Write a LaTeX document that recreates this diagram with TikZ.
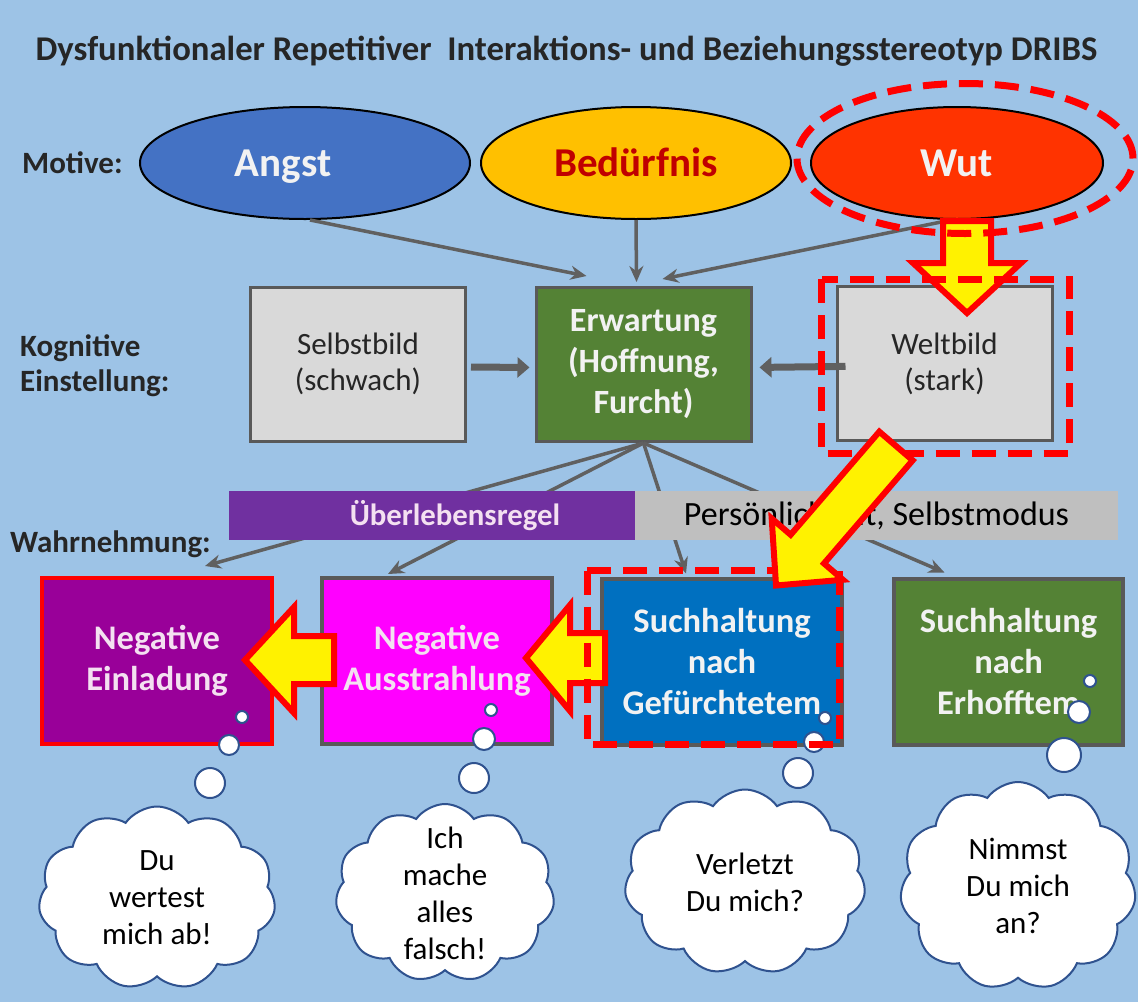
\documentclass[tikz,border=0pt]{standalone}
\usepackage{fontspec}
\setmainfont{Carlito}
\usetikzlibrary{arrows.meta,shapes.geometric,shapes.symbols}

\definecolor{hgblau}{HTML}{9DC3E6}
\definecolor{dunkel}{HTML}{262626}
\definecolor{angstblau}{HTML}{4472C4}
\definecolor{gold}{HTML}{FFC000}
\definecolor{dunkelrot}{HTML}{C00000}
\definecolor{wutrot}{HTML}{FF3300}
\definecolor{hellgrau}{HTML}{D9D9D9}
\definecolor{grasgruen}{HTML}{548235}
\definecolor{rahmen}{HTML}{595959}
\definecolor{linie}{HTML}{606060}
\definecolor{lila}{HTML}{7030A0}
\definecolor{balkengrau}{HTML}{BFBFBF}
\definecolor{violett}{HTML}{990099}
\definecolor{pink}{HTML}{FF00FF}
\definecolor{blau}{HTML}{0070C0}
\definecolor{wolkrand}{HTML}{2F528F}
\definecolor{hell}{HTML}{F2F2F2}
\definecolor{rosa}{HTML}{F4E0F1}

\newcommand{\gelbpfeil}[6]{%
  \begin{scope}[shift={#1},rotate=#2]
    \draw[gelb] (0,#5) -- ({#3-#4},#5) -- ({#3-#4},#6) -- (#3,0) -- ({#3-#4},-#6) -- ({#3-#4},-#5) -- (0,-#5) -- cycle;
  \end{scope}}

\begin{document}
\begin{tikzpicture}[x=1pt,y=-1pt,
  titel/.style={font=\fontsize{34.7}{40}\selectfont\bfseries, text=dunkel, inner sep=0},
  ebene/.style={font=\fontsize{31}{35}\selectfont\bfseries, text=dunkel, inner sep=0, align=left},
  motiv/.style={ellipse, draw=black, line width=2pt, inner sep=0, minimum height=112pt, text height=26.4pt, text depth=0pt, font=\fontsize{41}{45}\selectfont\bfseries},
  kasten/.style={rectangle, draw=rahmen, line width=3pt, inner sep=0, align=center, minimum width=215pt, minimum height=154pt, font=\fontsize{31}{36}\selectfont},
  feld/.style={rectangle, draw=rahmen, line width=4pt, inner sep=0, align=center, minimum height=166pt, font=\fontsize{34.5}{41}\selectfont\bfseries},
  balken/.style={rectangle, inner sep=0, minimum height=49pt, font=\fontsize{34}{38}\selectfont},
  verb/.style={draw=linie, line width=3.5pt, -{Stealth[length=16pt,width=14pt]}},
  dickpfeil/.style={draw=linie, line width=7pt, -{Triangle[length=12pt,width=20pt]}},
  rotstrich/.style={draw=red, line width=7pt, dash pattern=on 24pt off 12pt},
  wolke/.style={cloud, cloud puffs=11, cloud puff arc=110, draw=wolkrand, line width=2pt, fill=white, align=center, inner sep=0, font=\fontsize{31}{37}\selectfont},
  blase/.style={circle, draw=wolkrand, line width=2pt, fill=white, inner sep=0},
  gelb/.style={draw=red, fill=yellow, line width=6pt, line join=miter}]

\useasboundingbox (0,0) rectangle (1138,1002);
\fill[hgblau] (0,0) rectangle (1138,1002);

\node[titel, anchor=base] (titel) at (566.5,60) {Dysfunktionaler Repetitiver\ \ Interaktions- und Beziehungsstereotyp DRIBS};
\node[ebene, anchor=base west] (motive) at (22,173) {Motive:};
\node[ebene, anchor=west] (kogn) at (20,366) {Kognitive\\Einstellung:};
\node[ebene, anchor=base west] (wahrn) at (10,552) {Wahrnehmung:};

\node[motiv, fill=angstblau, text=hell, minimum width=330pt] (angst) at (305,163) {\hspace*{-44pt}Angst};
\node[motiv, fill=gold, text=dunkelrot, minimum width=310pt] (bed) at (636,163) {Bedürfnis};
\node[motiv, fill=wutrot, text=hell, minimum width=292pt] (wut) at (957,163) {Wut};

\node[kasten, fill=hellgrau, text=dunkel] (selbst) at (358,364) {Selbstbild\\(schwach)};
\node[kasten, fill=grasgruen, text=hell, font=\fontsize{34}{41}\selectfont\bfseries] (erw) at (643.5,364.5) {Erwartung\\(Hoffnung,\\Furcht)};
\node[kasten, fill=hellgrau, text=dunkel] (welt) at (944.5,363.5) {Weltbild\\(stark)};

\draw[verb] (angst.275) -- ([shift={(52,-10)}]erw.north west);
\draw[verb] (bed.south) -- ([shift={(-7,-4)}]erw.north);
\draw[verb] (wut.264) -- ([shift={(128,-7)}]erw.north west);
\draw[dickpfeil, shorten <=4pt, shorten >=5pt] ([yshift=-3pt]selbst.east) -- ([yshift=-3pt]erw.west);
\draw[dickpfeil, shorten <=-10pt, shorten >=7pt] ([yshift=-3pt]welt.west) -- ([yshift=-3pt]erw.east);

\node[feld, fill=violett, draw=red, text=rosa, minimum width=230pt] (nein) at (157,661) {Negative\\Einladung};
\node[feld, fill=pink, text=rosa, minimum width=230pt] (naus) at (437,661) {Negative\\Ausstrahlung};
\node[feld, fill=blau, text=hell, minimum width=240pt] (gef) at (722,661.5) {Suchhaltung\\nach\\Gefürchtetem};
\node[feld, fill=grasgruen, text=hell, minimum width=229pt] (erh) at (1008.5,661.5) {Suchhaltung\\nach\\Erhofftem};

\draw[verb] (erw.south) -- ([shift={(48,-10)}]nein.north);
\draw[verb] (erw.south) -- ([shift={(-49,-2)}]naus.north);
\draw[verb] (erw.south) -- ([shift={(-36,-3)}]gef.north);
\draw[verb] (erw.south) -- ([shift={(-64,-4)}]erh.north);

\node[balken, fill=lila, text=rosa, font=\fontsize{30.8}{34}\selectfont\bfseries, minimum width=406pt] (regel) at (432,515.5) {\hspace*{46pt}Überlebensregel};
\node[balken, fill=balkengrau, text=black, minimum width=483pt] (modus) at (876.5,515.5) {Persönlichkeit, Selbstmodus};

\foreach \x/\y/\r [count=\i] in {242/717/6, 229/745/10, 210/783/15, 491/710/6, 484/739/11, 474/778/15,
    825/718/6, 814/742/10, 798/773/15, 1090/681/6, 1079/712/11, 1064/755/17}
  \node[blase, minimum size=2*\r pt] (blase\i) at (\x,\y) {};

\node[wolke, minimum width=237pt, minimum height=183pt] (wolke1) at (157,898) {Du\\wertest\\mich ab!};
\node[wolke, minimum width=219pt, minimum height=178pt, inner ysep=-18pt] (wolke2) at (445,893) {Ich\\mache\\alles\\falsch!};
\node[wolke, minimum width=241pt, minimum height=185pt] (wolke3) at (745,882) {Verletzt\\Du mich?};
\node[wolke, minimum width=236pt, minimum height=208pt] (wolke4) at (1018,886) {Nimmst\\Du mich\\an?};

\gelbpfeil{(967,221)}{-90}{92}{50}{24}{54}
\gelbpfeil{(334,660)}{180}{89}{49}{24}{53}
\gelbpfeil{(605,658)}{180}{79}{44}{25}{53}

\draw[rotstrich] (965,158.5) ellipse (168pt and 75pt);
\draw[rotstrich] ([shift={(-14,-6)}]welt.north west) rectangle ([shift={(16,11)}]welt.south east);
\draw[rotstrich] ([shift={(-13,-6)}]gef.north west) rectangle ([shift={(-5,-2)}]gef.south east);

\gelbpfeil{(896,446)}{-130.7}{184}{48}{22}{47}
\end{tikzpicture}
\end{document}
